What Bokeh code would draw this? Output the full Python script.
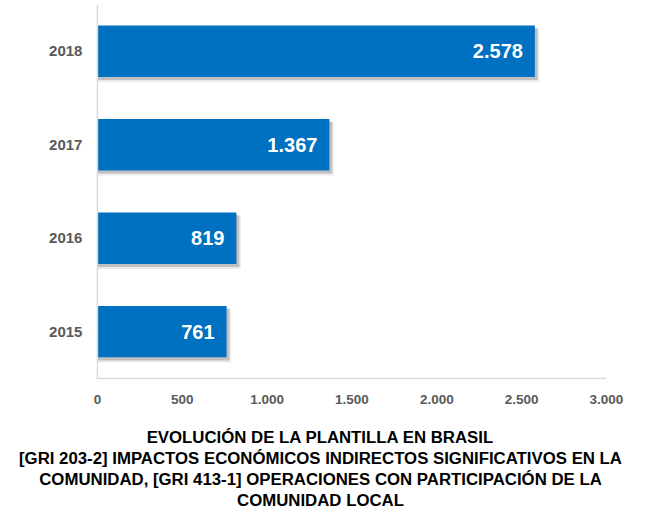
from bokeh.plotting import figure
from bokeh.models import ColumnDataSource, FixedTicker, Range1d, Span, Title
from bokeh.embed import file_html
from bokeh.resources import INLINE
from bokeh.core.properties import value

years = ["2015", "2016", "2017", "2018"]
employees = [761, 819, 1367, 2578]
value_labels = ["761", "819", "1.367", "2.578"]
x_ticks = [0, 500, 1000, 1500, 2000, 2500, 3000]
x_tick_labels = ["0", "500", "1.000", "1.500", "2.000", "2.500", "3.000"]
title_lines = [
    "EVOLUCIÓN DE LA PLANTILLA EN BRASIL",
    "[GRI 203-2] IMPACTOS ECONÓMICOS INDIRECTOS SIGNIFICATIVOS EN LA",
    "COMUNIDAD, [GRI 413-1] OPERACIONES CON PARTICIPACIÓN DE LA",
    "COMUNIDAD LOCAL",
]

FONT = "Liberation Sans"
AXIS_GRAY = "#D9D9D9"
pos = [i + 0.5 for i in range(len(years))]

src = ColumnDataSource(dict(y=pos, v=employees, lab=value_labels, yr=years,
                            zero=[0] * len(years),
                            vs=[v + 17 for v in employees],
                            ys=[y - 0.03 for y in pos],
                            vs2=[v + 26 for v in employees],
                            ys2=[y - 0.045 for y in pos]))

# frame is widened to the left so that the bottom title is centred on the page;
# x = 0 still sits where the reference's value axis is.
p = figure(width=632, height=510, output_backend="svg", toolbar_location=None,
           x_range=Range1d(-371, 3000), y_range=Range1d(-0.012, 4.0),
           min_border_left=34, min_border_right=26, min_border_top=4,
           min_border_bottom=0)
p.outline_line_color = None
p.xgrid.visible = False
p.ygrid.visible = False
p.yaxis.visible = False
p.background_fill_color = "white"

# value axis line (x = 0) and category axis line (y = 0)
p.add_layout(Span(location=0, dimension="height", line_color=AXIS_GRAY, line_width=1.5))
p.segment(x0=x_ticks[0], x1=x_ticks[-1], y0=0, y1=0, line_color=AXIS_GRAY, line_width=1.5)

# shadow
p.hbar(y="ys2", left=0, right="vs2", height=0.57, source=src,
       fill_color="#000000", fill_alpha=0.08, line_color=None)
p.hbar(y="ys", left=0, right="vs", height=0.555, source=src,
       fill_color="#000000", fill_alpha=0.18, line_color=None)
p.hbar(y="y", left=0, right="v", height=0.55, source=src,
       fill_color="#0070C0", line_color=None)

p.text(x="v", y="y", text="lab", source=src, x_offset=-12,
       text_align="right", text_baseline="middle", text_color="white",
       text_font=value(FONT), text_font_style="bold", text_font_size="20px")

# category labels
p.text(x="zero", y="y", text="yr", source=src, x_offset=-15,
       text_align="right", text_baseline="middle", text_color="#595959",
       text_font=value(FONT), text_font_style="bold", text_font_size="15px")

ax = p.xaxis[0]
ax.axis_line_color = None
ax.major_tick_line_color = None
ax.minor_tick_line_color = None
ax.major_tick_out = 0
ax.major_tick_in = 0
ax.major_label_text_font = FONT
ax.major_label_text_font_style = "bold"
ax.major_label_text_font_size = "13.5px"
ax.major_label_text_color = "#595959"
ax.ticker = FixedTicker(ticks=x_ticks)
ax.major_label_overrides = {t: l for t, l in zip(x_ticks, x_tick_labels)}
ax.major_label_standoff = 15

# spacer between tick labels and the title block
p.add_layout(Title(text=" ", text_font_size="2px", standoff=16), "below")
for line in title_lines:
    p.add_layout(Title(text=line, align="center", vertical_align="middle",
                       text_font=FONT, text_font_style="bold",
                       text_font_size="16.8px", text_color="black",
                       standoff=0), "below")

open("out.html", "w").write(file_html(p, INLINE))
